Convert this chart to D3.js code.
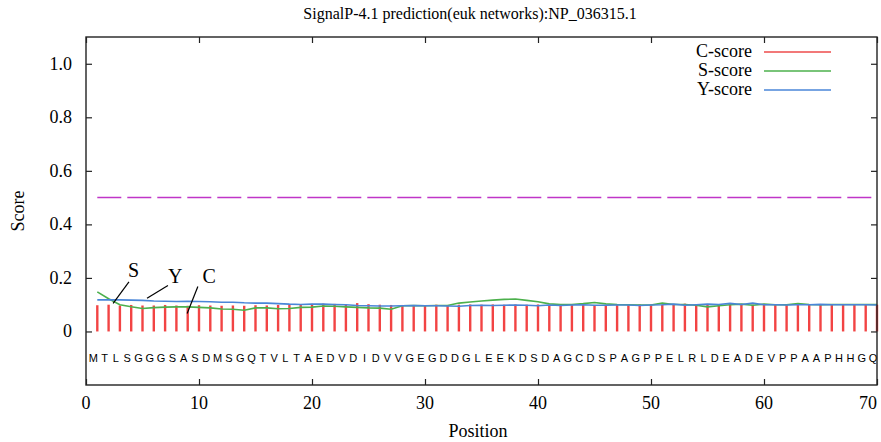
<!DOCTYPE html>
<html>
<head>
<meta charset="UTF-8">
<script src="https://d3js.org/d3.v7.min.js"></script>
<style>
  body { margin: 0; background: #fff; }
  svg { display: block; font-family: "Liberation Serif", "DejaVu Serif", serif; }
  .seq { font-family: "Liberation Sans", Arial, sans-serif; font-size: 11px; }
</style>
</head>
<body>
<div id="chart"></div>
<script>
// sequence and scores (one value per residue, positions 1..70)
const sequence = "MTLSGGGSASDMSGQTVLTAEDVDIDVVGEGDDGLEEKDSDAGCDSPAGPPELRLDEADEVPPAAPHHGQ".split("");

const cScore = [
  .098,.100,.097,.099,.097,.097,.099,.097,.096,.098,
  .097,.096,.097,.096,.098,.097,.099,.100,.101,.103,
  .104,.103,.102,.106,.102,.100,.099,.099,.098,.098,
  .100,.099,.100,.101,.100,.101,.100,.101,.100,.101,
  .099,.100,.099,.100,.099,.099,.100,.100,.101,.100,
  .100,.101,.104,.101,.100,.102,.100,.101,.100,.103,
  .102,.100,.101,.100,.099,.100,.100,.100,.100,.100];

const sScore = [
  .148,.122,.100,.092,.086,.089,.091,.092,.092,.090,
  .088,.084,.083,.079,.088,.088,.085,.086,.090,.091,
  .095,.094,.092,.090,.088,.087,.083,.096,.097,.096,
  .097,.097,.106,.110,.114,.117,.120,.121,.116,.111,
  .103,.101,.101,.104,.108,.103,.101,.100,.099,.099,
  .106,.101,.101,.098,.092,.096,.100,.102,.098,.102,
  .100,.100,.104,.101,.100,.101,.101,.101,.101,.101];

const yScore = [
  .118,.118,.118,.117,.116,.114,.113,.112,.113,.112,
  .111,.109,.109,.107,.106,.106,.104,.102,.101,.102,
  .102,.101,.100,.097,.096,.095,.095,.096,.097,.096,
  .096,.095,.094,.097,.098,.097,.098,.099,.098,.096,
  .099,.097,.099,.100,.098,.098,.099,.099,.097,.099,
  .100,.102,.098,.100,.102,.101,.105,.101,.106,.100,
  .100,.099,.100,.100,.101,.100,.100,.100,.100,.099];

const cutoff = 0.5;
const xTicks = [0, 10, 20, 30, 40, 50, 60, 70];
const yTicks = [0, 0.2, 0.4, 0.6, 0.8, 1.0];

// label text, label position, arrow start, arrow end (data coords)
const notes = [
  { t: "S", lx: 4.2, ly: 0.228, x1: 3.8, y1: 0.185, x2: 2.4, y2: 0.105 },
  { t: "Y", lx: 7.9, ly: 0.206, x1: 7.25, y1: 0.172, x2: 5.4, y2: 0.124 },
  { t: "C", lx: 10.9, ly: 0.206, x1: 9.9, y1: 0.168, x2: 8.95, y2: 0.067 }
];

const legendItems = [
  { name: "C-score", color: "#ee4b4b" },
  { name: "S-score", color: "#4cb04c" },
  { name: "Y-score", color: "#4a86d8" }
];

const width = 881, height = 442;
const margin = { top: 37, right: 4, bottom: 57, left: 86 };

const svg = d3.select("#chart").append("svg")
  .attr("width", width).attr("height", height);

const x = d3.scaleLinear().domain([0, 70]).range([margin.left, width - margin.right]);
const y = d3.scaleLinear().domain([-0.2, 1.1]).range([height - margin.bottom, margin.top]);

const pos = sequence.map((d, i) => i + 1);

// title
svg.append("text")
  .attr("x", 470).attr("y", 19)
  .attr("text-anchor", "middle")
  .style("font-size", "16px")
  .text("SignalP-4.1 prediction(euk networks):NP_036315.1");

// cutoff line
svg.append("line")
  .attr("x1", x(1)).attr("x2", x(70))
  .attr("y1", y(cutoff)).attr("y2", y(cutoff))
  .attr("stroke", "#c035c8").attr("stroke-width", 1.5)
  .attr("stroke-dasharray", "24,6");

// C-score bars
svg.append("g").selectAll("line")
  .data(cScore).join("line")
  .attr("x1", (d, i) => x(pos[i])).attr("x2", (d, i) => x(pos[i]))
  .attr("y1", y(0)).attr("y2", d => y(d))
  .attr("stroke", "#f24444").attr("stroke-width", 2.4);

// S and Y lines
const line = d3.line().x((d, i) => x(pos[i])).y(d => y(d));
svg.append("path").datum(sScore)
  .attr("d", line).attr("fill", "none")
  .attr("stroke", "#4cb04c").attr("stroke-width", 1.6);
svg.append("path").datum(yScore)
  .attr("d", line).attr("fill", "none")
  .attr("stroke", "#4a86d8").attr("stroke-width", 1.6);

// sequence letters
svg.append("g").selectAll("text")
  .data(sequence).join("text")
  .attr("class", "seq")
  .attr("x", (d, i) => x(pos[i]) - 4)
  .attr("y", y(-0.1) + 4)
  .attr("text-anchor", "middle")
  .text(d => d);

// annotations
const ann = svg.append("g");
notes.forEach(n => {
  ann.append("line")
    .attr("x1", x(n.x1)).attr("y1", y(n.y1))
    .attr("x2", x(n.x2)).attr("y2", y(n.y2))
    .attr("stroke", "#000").attr("stroke-width", 1.2);
  ann.append("text")
    .attr("x", x(n.lx)).attr("y", y(n.ly) + 7)
    .attr("text-anchor", "middle")
    .style("font-size", "20px")
    .text(n.t);
});

// frame
svg.append("rect")
  .attr("x", x(0)).attr("y", y(1.1))
  .attr("width", x(70) - x(0)).attr("height", y(-0.2) - y(1.1))
  .attr("fill", "none").attr("stroke", "#222").attr("stroke-width", 1.4);

// axes with mirrored inward ticks (gnuplot style)
const axL = svg.append("g").attr("transform", `translate(${x(0)},0)`)
  .call(d3.axisRight(y).tickValues(yTicks).tickSize(6).tickFormat(""));
const axR = svg.append("g").attr("transform", `translate(${x(70)},0)`)
  .call(d3.axisLeft(y).tickValues(yTicks).tickSize(6).tickFormat(""));
const axB = svg.append("g").attr("transform", `translate(0,${y(-0.2)})`)
  .call(d3.axisTop(x).tickValues(xTicks).tickSize(6).tickFormat(""));
const axT = svg.append("g").attr("transform", `translate(0,${y(1.1)})`)
  .call(d3.axisBottom(x).tickValues(xTicks).tickSize(6).tickFormat(""));
[axL, axR, axB, axT].forEach(a => {
  a.select(".domain").remove();
  a.selectAll("line").attr("stroke", "#222").attr("stroke-width", 1.2);
});

// tick labels
svg.append("g").selectAll("text")
  .data(yTicks).join("text")
  .attr("x", x(0) - 14).attr("y", d => y(d) + 6)
  .attr("text-anchor", "end")
  .style("font-size", "18px")
  .text(d => d === 0 ? "0" : d3.format(".1f")(d));
const lastTick = xTicks[xTicks.length - 1];
svg.append("g").selectAll("text")
  .data(xTicks).join("text")
  .attr("x", d => d === lastTick ? Math.min(x(d), width - 3) : x(d))
  .attr("y", y(-0.2) + 24)
  .attr("text-anchor", d => d === lastTick ? "end" : "middle")
  .style("font-size", "18px")
  .text(d => d);

// axis titles
svg.append("text")
  .attr("transform", `translate(24,${(y(1.1) + y(-0.2)) / 2}) rotate(-90)`)
  .attr("text-anchor", "middle")
  .style("font-size", "18px")
  .text("Score");
svg.append("text")
  .attr("x", 478).attr("y", 437)
  .attr("text-anchor", "middle")
  .style("font-size", "18px")
  .text("Position");

// legend
const lg = svg.append("g");
legendItems.forEach((d, i) => {
  const ly = 52 + i * 19;
  lg.append("text")
    .attr("x", 752).attr("y", ly + 5)
    .attr("text-anchor", "end")
    .style("font-size", "18px")
    .text(d.name);
  lg.append("line")
    .attr("x1", 764).attr("x2", 831)
    .attr("y1", ly).attr("y2", ly)
    .attr("stroke", d.color).attr("stroke-width", 1.5);
});
</script>
</body>
</html>
